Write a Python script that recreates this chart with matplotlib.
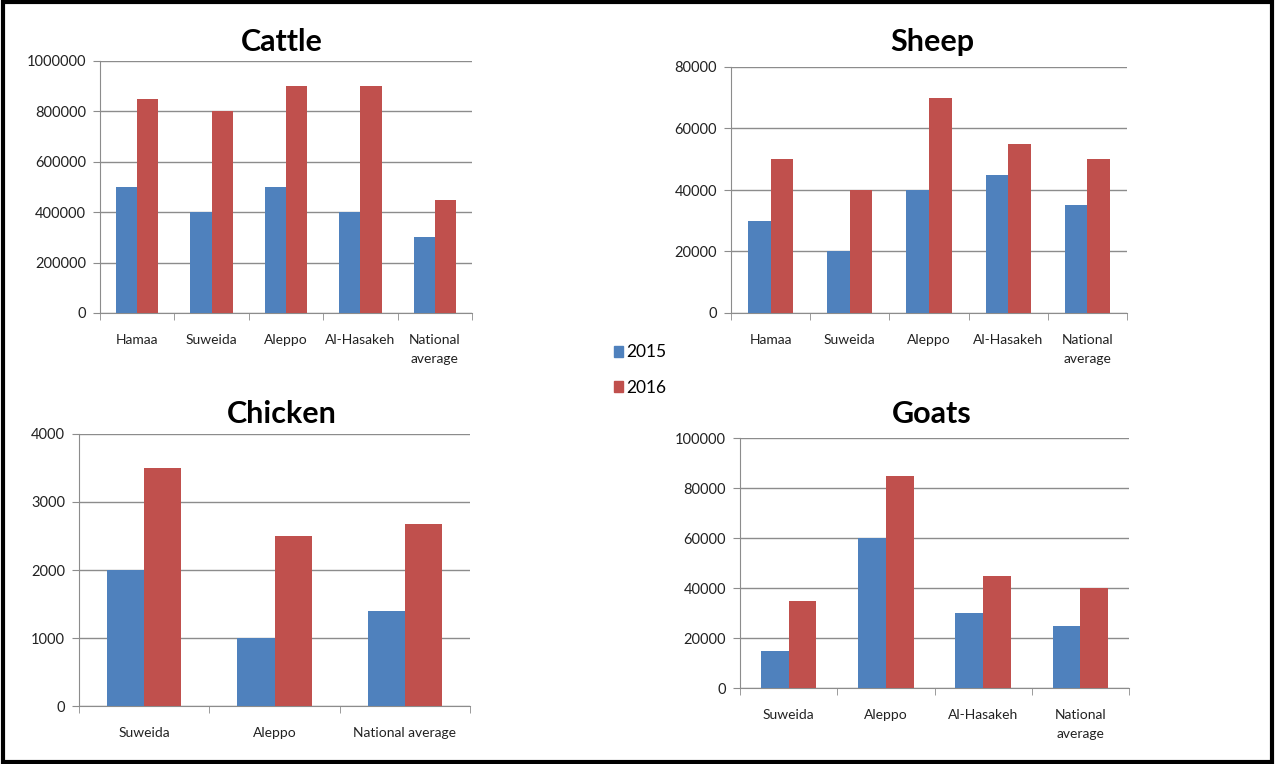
import numpy as np
import matplotlib
matplotlib.use("Agg")
import matplotlib.pyplot as plt
from matplotlib.patches import Rectangle

plt.rcParams['font.family'] = ['Lato', 'DejaVu Sans']

#Values
cattle_cats = ["Hamaa", "Suweida", "Aleppo", "Al-Hasakeh", "National\naverage"]
cattle_2015 = [500000, 400000, 500000, 400000, 300000]
cattle_2016 = [850000, 800000, 900000, 900000, 450000]

sheep_cats = ["Hamaa", "Suweida", "Aleppo", "Al-Hasakeh", "National\naverage"]
sheep_2015 = [30000, 20000, 40000, 45000, 35000]
sheep_2016 = [50000, 40000, 70000, 55000, 50000]

chicken_cats = ["Suweida", "Aleppo", "National average"]
chicken_2015 = [2000, 1000, 1400]
chicken_2016 = [3500, 2500, 2680]

goats_cats = ["Suweida", "Aleppo", "Al-Hasakeh", "National\naverage"]
goats_2015 = [15000, 60000, 30000, 25000]
goats_2016 = [35000, 85000, 45000, 40000]

years = ["2015", "2016"]
blue = "#4F81BD"
red = "#C0504D"
grid_col = "#8C8C8C"

W, H = 1275, 764
fig = plt.figure(figsize=(W / 100, H / 100), dpi=100)


#Converts a pixel box of the picture into figure fractions
def box(x0, y0, x1, y1):
    return [x0 / W, 1 - y1 / H, (x1 - x0) / W, (y1 - y0) / H]


def panel(rect, title, title_xy, cats, v15, v16, ymax, step):
    ax = fig.add_axes(box(*rect))
    n = len(cats)
    x = np.arange(n)
    w = 1 / 3.5
    ax.bar(x - w / 2, v15, w, color=blue, zorder=3)
    ax.bar(x + w / 2, v16, w, color=red, zorder=3)
    ax.set_xlim(-0.5, n - 0.5)
    ax.set_ylim(0, ymax)
    ticks = np.arange(0, ymax + 1, step)
    ax.set_yticks(ticks)
    ax.set_yticklabels([str(int(t)) for t in ticks], fontsize=10.5, color="#222222")
    ax.set_xticks(x)
    ax.set_xticklabels(cats, fontsize=10, color="#222222", linespacing=1.75)
    ax.set_xticks(np.arange(n + 1) - 0.5, minor=True)
    ax.tick_params(axis="x", which="major", length=0, pad=15)
    ax.tick_params(axis="x", which="minor", length=5, color=grid_col, direction="out")
    ax.tick_params(axis="y", length=5, color=grid_col, direction="out", pad=5)
    ax.grid(axis="y", color=grid_col, linewidth=1, zorder=0)
    for s in ["top", "right"]:
        ax.spines[s].set_visible(False)
    for s in ["left", "bottom"]:
        ax.spines[s].set_color(grid_col)
    fig.text(title_xy[0] / W, 1 - title_xy[1] / H, title, fontsize=22,
             fontweight="bold", ha="center", va="center")
    return ax


panel((100, 61, 472, 313), "Cattle", (282, 42), cattle_cats, cattle_2015, cattle_2016, 1000000, 200000)
panel((731, 67, 1127, 313), "Sheep", (932, 42), sheep_cats, sheep_2015, sheep_2016, 80000, 20000)
panel((79, 434, 470, 706), "Chicken", (282, 414), chicken_cats, chicken_2015, chicken_2016, 4000, 1000)
panel((740, 438, 1129, 688), "Goats", (932, 414), goats_cats, goats_2015, goats_2016, 100000, 20000)

#Legend in the middle of the figure
handles = [Rectangle((0, 0), 1, 1, color=blue), Rectangle((0, 0), 1, 1, color=red)]
fig.legend(handles, years, loc="center", bbox_to_anchor=(640 / W, 1 - 370 / H),
           frameon=False, fontsize=12.5, handlelength=0.55, handleheight=0.55,
           handletextpad=0.15, labelspacing=1.1)

#Black frame round the whole picture
fig.patches.append(Rectangle((0.002, 0.003), 0.996, 0.994, transform=fig.transFigure,
                             fill=False, edgecolor="black", linewidth=3))

fig.savefig("out.png", dpi=100)
